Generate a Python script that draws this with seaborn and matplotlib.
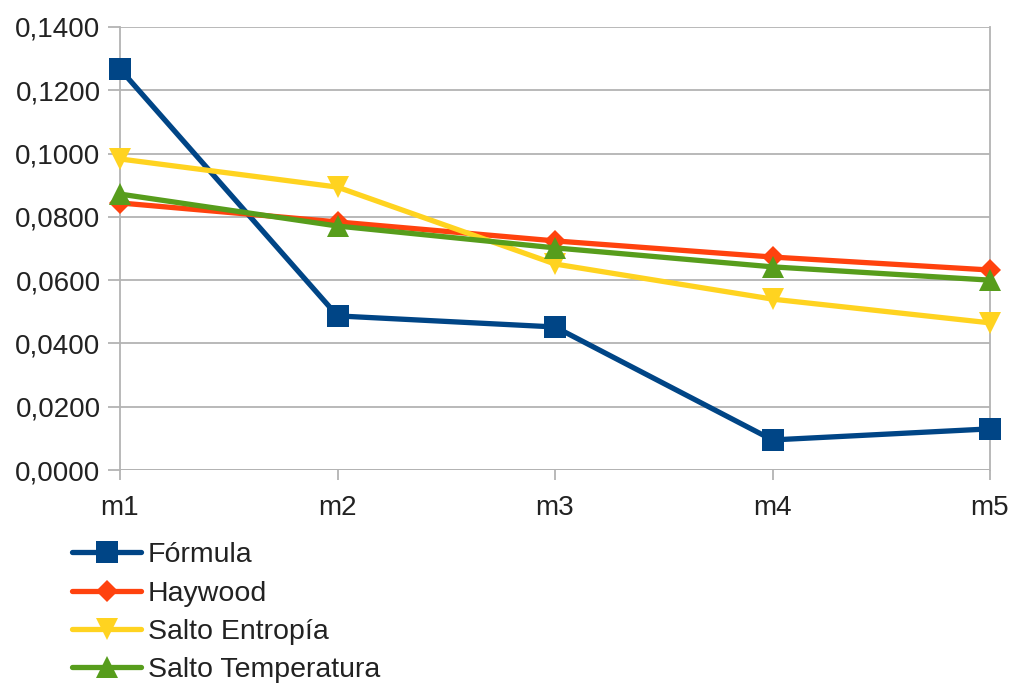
import matplotlib
matplotlib.use("Agg")
import matplotlib.pyplot as plt
from matplotlib.ticker import FuncFormatter, MultipleLocator
from matplotlib.lines import Line2D
import pandas as pd
import seaborn as sns

categories = ["m1", "m2", "m3", "m4", "m5"]
formula = [0.1267, 0.0487, 0.0452, 0.0095, 0.0130]
haywood = [0.0844, 0.0784, 0.0724, 0.0673, 0.0632]
salto_entropia = [0.0983, 0.0894, 0.0651, 0.0540, 0.0465]
salto_temperatura = [0.0872, 0.0771, 0.0702, 0.0642, 0.0600]

series_names = ["Fórmula", "Haywood", "Salto Entropía", "Salto Temperatura"]
series_values = [formula, haywood, salto_entropia, salto_temperatura]
colors = ["#004586", "#ff420e", "#ffd320", "#579d1c"]
markers = ["s", "D", "v", "^"]
marker_sizes = [16, 11, 16, 16]

sns.set_theme(style="white")
plt.rcParams["font.family"] = ["Liberation Sans", "DejaVu Sans"]

rows = []
for name, vals in zip(series_names, series_values):
    for i, (c, v) in enumerate(zip(categories, vals)):
        rows.append({"pos": i, "cat": c, "valor": v, "serie": name})
df = pd.DataFrame(rows)

fig = plt.figure(figsize=(10.14, 6.86), dpi=100)
ax = fig.add_axes([120 / 1014, 1 - 470 / 686, 870 / 1014, 443 / 686])

for name, col, mk, ms in zip(series_names, colors, markers, marker_sizes):
    sub = df[df["serie"] == name]
    sns.lineplot(data=sub, x="pos", y="valor", ax=ax, color=col, linewidth=3.8,
                 marker=mk, markersize=ms, markeredgewidth=0, legend=False,
                 clip_on=False, zorder=3)

ax.set_xlim(0, 4)
ax.set_ylim(0, 0.14)
ax.yaxis.set_major_locator(MultipleLocator(0.02))
ax.yaxis.set_major_formatter(FuncFormatter(lambda v, p: f"{v:.4f}".replace(".", ",")))
ax.set_xticks(range(len(categories)))
ax.set_xticklabels(categories)
ax.set_xlabel("")
ax.set_ylabel("")

ax.grid(axis="y", color="#b3b3b3", linewidth=1.3)
ax.grid(axis="x", visible=False)
for side in ["top", "bottom"]:
    ax.spines[side].set_visible(False)
for side in ["left", "right"]:
    ax.spines[side].set_visible(True)
    ax.spines[side].set_color("#b3b3b3")
    ax.spines[side].set_linewidth(1.3)
ax.axhline(0, color="#b3b3b3", linewidth=1.3, zorder=1)

ax.tick_params(axis="both", which="major", labelsize=20, labelcolor="#222222",
               color="#b3b3b3", width=1.3, direction="out")
ax.tick_params(axis="y", length=9, pad=5, left=True)
ax.tick_params(axis="x", length=7, pad=11, bottom=True)

handles = [Line2D([0], [0], color=c, linewidth=3.8, marker=m, markersize=s,
                  markeredgewidth=0)
           for c, m, s in zip(colors, markers, marker_sizes)]
fig.legend(handles, series_names, loc="upper left",
           bbox_to_anchor=(61 / 1014, 1 - 531 / 686), frameon=False,
           fontsize=20.5, handlelength=2.4, handletextpad=0.25,
           labelspacing=0.43, labelcolor="#222222", borderaxespad=0)

fig.savefig("out.png", dpi=100)
